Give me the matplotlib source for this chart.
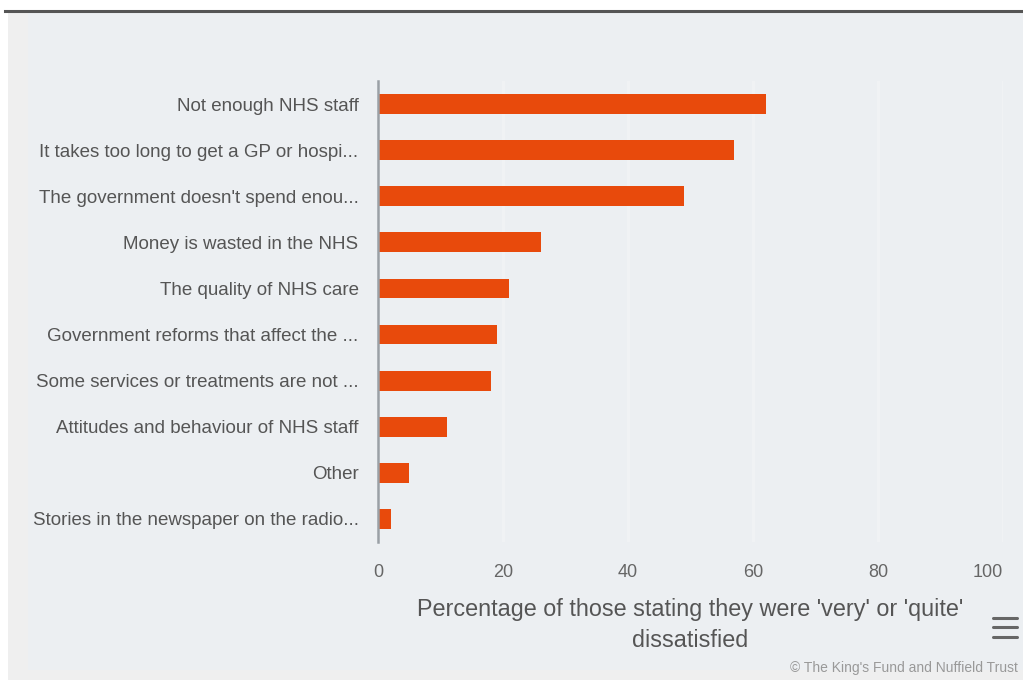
import matplotlib.pyplot as plt
from matplotlib.lines import Line2D
from matplotlib.patches import Rectangle

categories = [
    "Not enough NHS staff",
    "It takes too long to get a GP or hospi...",
    "The government doesn't spend enou...",
    "Money is wasted in the NHS",
    "The quality of NHS care",
    "Government reforms that affect the ...",
    "Some services or treatments are not ...",
    "Attitudes and behaviour of NHS staff",
    "Other",
    "Stories in the newspaper on the radio...",
]
values = [62, 57, 49, 26, 21, 19, 18, 11, 5, 2]
xticks = [0, 20, 40, 60, 80, 100]

FONT = ["Liberation Sans", "DejaVu Sans"]
BAR = "#e84a0c"
BG = "#eceff2"

W, H = 1023, 680
fig = plt.figure(figsize=(W / 100, H / 100), dpi=100)
fig.patch.set_facecolor("white")

def fx(px):
    return px / W

def fy(py):
    return 1 - py / H

# panel backgrounds and the rule along the top
fig.add_artist(Rectangle((fx(8), 0), fx(W - 8), fy(13), transform=fig.transFigure,
                         facecolor="#efefef", edgecolor="none", zorder=0))
fig.add_artist(Rectangle((fx(28), fy(670)), fx(W - 28), fy(13) - fy(670),
                         transform=fig.transFigure, facecolor=BG, edgecolor="none", zorder=0))
fig.add_artist(Line2D([fx(5), 1], [fy(11), fy(11)], transform=fig.transFigure,
                      color="#555555", lw=2.2))

ax = fig.add_axes([fx(378), fy(542), fx(1003) - fx(378), fy(81) - fy(542)])
ax.set_facecolor(BG)

ypos = list(range(len(categories)))
ax.barh(ypos, values, height=0.43, color=BAR, zorder=3)

ax.set_xlim(0, 100)
ax.set_ylim(len(categories) - 0.5, -0.5)
ax.set_xticks(xticks)
ax.set_yticks(ypos)
ax.set_yticklabels(categories)
ax.grid(axis="x", color="#f0f2f4", lw=2.5, zorder=1)
ax.set_axisbelow(True)

for side in ["top", "right", "bottom"]:
    ax.spines[side].set_visible(False)
ax.spines["left"].set_color("#9aa0a6")
ax.spines["left"].set_linewidth(1.8)
ax.spines["left"].set_zorder(4)

ax.tick_params(axis="y", length=0, pad=14, labelsize=13.5, labelcolor="#555555")
ax.tick_params(axis="x", length=0, pad=16, labelsize=13, labelcolor="#666666")
for lab in ax.get_xticklabels() + ax.get_yticklabels():
    lab.set_family(FONT)
# last tick label sits a little inside the plot edge
ax.get_xticklabels()[-1].set_horizontalalignment("right")
ax.get_xticklabels()[-1].set_x(100)

ax.set_xlabel("Percentage of those stating they were 'very' or 'quite'\ndissatisfied",
              family=FONT, fontsize=16.8, color="#555555", labelpad=12, linespacing=1.45)

# menu icon
for py in [618, 627, 637]:
    fig.add_artist(Line2D([fx(993), fx(1017)], [fy(py), fy(py)], transform=fig.transFigure,
                          color="#666666", lw=2.2, solid_capstyle="round"))

fig.text(fx(1018), fy(668), "\u00a9 The King's Fund and Nuffield Trust", ha="right", va="center",
         family=FONT, fontsize=10, color="#999999")

fig.savefig("out.png", dpi=100, facecolor=fig.get_facecolor())
